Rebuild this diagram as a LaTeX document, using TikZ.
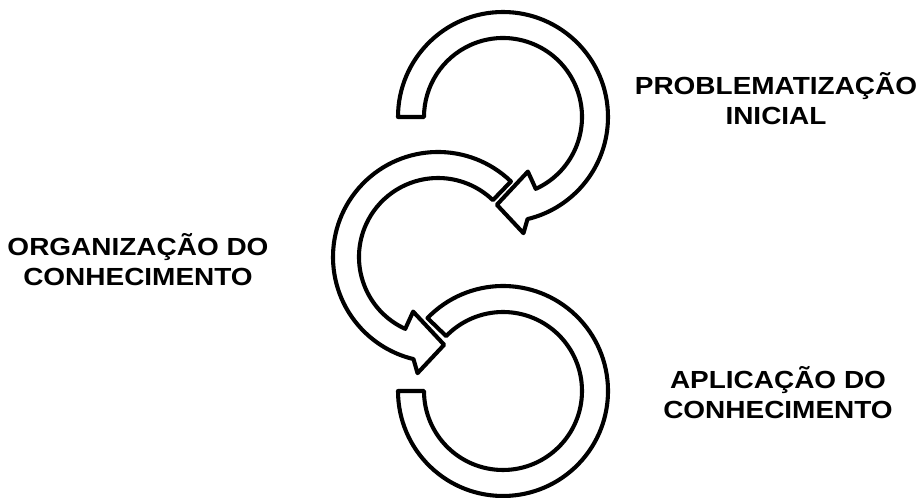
\documentclass[tikz,border=0pt]{standalone}
\usepackage{fontspec}
\setmainfont{Liberation Sans}
\usepackage{tikz}

\begin{document}
\begin{tikzpicture}[x=0.025cm, y=0.025cm, line join=round,
  seta/.style={draw=black, line width=2.9pt, fill=white},
  fase/.style={font=\bfseries\fontsize{17.6}{21.3}\selectfont\addfontfeature{FakeStretch=1.13},
    align=center, inner sep=0pt}]
  \def\Ro{105}
  \def\Ri{79}
  \useasboundingbox (0,0) rectangle (922,498);
  \coordinate (T) at (503,381);
  \coordinate (M) at (438,241);
  \coordinate (B) at (503,107);

  % top ring, tail on the left, head turning back under it
  \draw[seta] ([shift={(180:\Ri)}]T) -- ([shift={(180:\Ro)}]T)
    arc[start angle=180, end angle=-76.5, radius=\Ro]
    -- ([shift={(-80:118)}]T) -- ([shift={(-94:88)}]T)
    -- ([shift={(-65.5:60)}]T) -- ([shift={(-65.5:\Ri)}]T)
    arc[start angle=-65.5, end angle=180, radius=\Ri] -- cycle;

  % middle ring, mirrored
  \draw[seta] ([shift={(46:\Ri)}]M) -- ([shift={(46:\Ro)}]M)
    arc[start angle=46, end angle=256.5, radius=\Ro]
    -- ([shift={(260:118)}]M) -- ([shift={(274:88)}]M)
    -- ([shift={(245.5:60)}]M) -- ([shift={(245.5:\Ri)}]M)
    arc[start angle=245.5, end angle=46, radius=\Ri] -- cycle;

  % bottom ring, no head
  \draw[seta] ([shift={(136:\Ri)}]B) -- ([shift={(136:\Ro)}]B)
    arc[start angle=136, end angle=-180, radius=\Ro]
    -- ([shift={(180:\Ri)}]B)
    arc[start angle=-180, end angle=136, radius=\Ri] -- cycle;

  \node[fase] (problema) at (776,399) {PROBLEMATIZAÇÃO\\INICIAL};
  \node[fase] (organiza) at (138,238.5) {ORGANIZAÇÃO DO\\CONHECIMENTO};
  \node[fase] (aplica) at (778,105) {APLICAÇÃO DO\\CONHECIMENTO};
\end{tikzpicture}
\end{document}
